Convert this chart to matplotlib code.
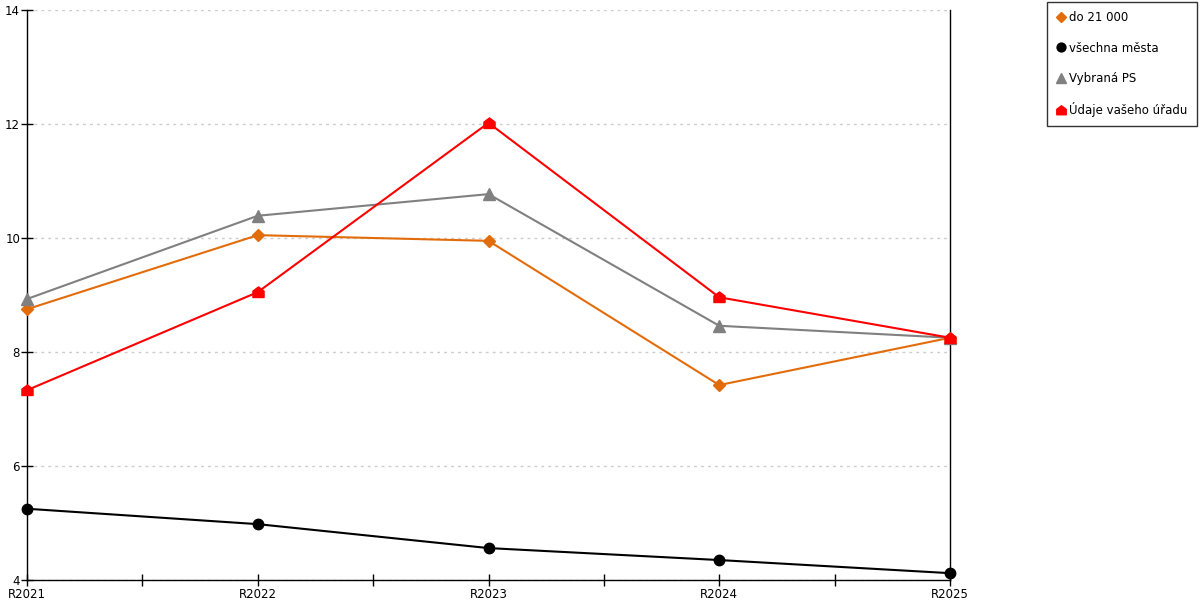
import numpy as np
import matplotlib.pyplot as plt
from matplotlib.lines import Line2D
from matplotlib.path import Path

years = ["R2021", "R2022", "R2023", "R2024", "R2025"]
do_21000 = [8.75, 10.05, 9.95, 7.42, 8.25]
vsechna_mesta = [5.25, 4.98, 4.56, 4.35, 4.12]
vybrana_ps = [8.93, 10.39, 10.77, 8.46, 8.25]
vas_urad = [7.33, 9.05, 12.02, 8.96, 8.25]

# house-shaped marker for the office series
house = Path([(-1, -0.9), (1, -0.9), (1, 0.25), (0, 1), (-1, 0.25), (-1, -0.9)],
             [Path.MOVETO, Path.LINETO, Path.LINETO, Path.LINETO, Path.LINETO, Path.CLOSEPOLY])

series = [
    ("do 21 000", do_21000, "#e36c0a", "D", 6),
    ("všechna města", vsechna_mesta, "black", "o", 7.5),
    ("Vybraná PS", vybrana_ps, "gray", "^", 8),
    ("Údaje vašeho úřadu", vas_urad, "red", house, 8),
]

fig = plt.figure(figsize=(12, 6), dpi=100)
ax = fig.add_axes([27 / 1200, 20 / 600, 923 / 1200, 570 / 600])

x = np.arange(len(years))
handles = []
for label, vals, color, marker, ms in series:
    ax.plot(x, vals, color=color, lw=1.5, marker=marker, ms=ms,
            mec=color, mfc=color, clip_on=False, zorder=3)
    handles.append(Line2D([], [], ls="none", marker=marker, color=color, ms=ms * 0.85))

ax.set_xlim(0, len(years) - 1)
ax.set_ylim(4, 14)
ax.set_yticks(np.arange(4, 15, 2))
ax.set_xticks(x)
ax.set_xticklabels(years)
ax.set_xticks(np.arange(0.5, len(years) - 1, 1), minor=True)
ax.tick_params(axis="both", which="both", direction="inout", length=8, width=1,
               labelsize=8.5, pad=1)
ax.tick_params(axis="x", which="major", pad=2)
ax.grid(axis="y", color="#cccccc", ls=(0, (2, 3)), lw=1)
ax.spines["top"].set_visible(False)
for s in ["left", "bottom", "right"]:
    ax.spines[s].set_linewidth(1)
    ax.spines[s].set_color("black")

leg = fig.legend(handles=handles, labels=[s[0] for s in series],
                 loc="upper right", bbox_to_anchor=(1197 / 1200, 1 - 2 / 600),
                 fontsize=8.5, frameon=True, fancybox=False, edgecolor="black",
                 handlelength=0.8, handletextpad=0.3, labelspacing=1.45,
                 borderpad=0.8, borderaxespad=0)
leg.get_frame().set_linewidth(1)

fig.savefig("out.png", dpi=100)
